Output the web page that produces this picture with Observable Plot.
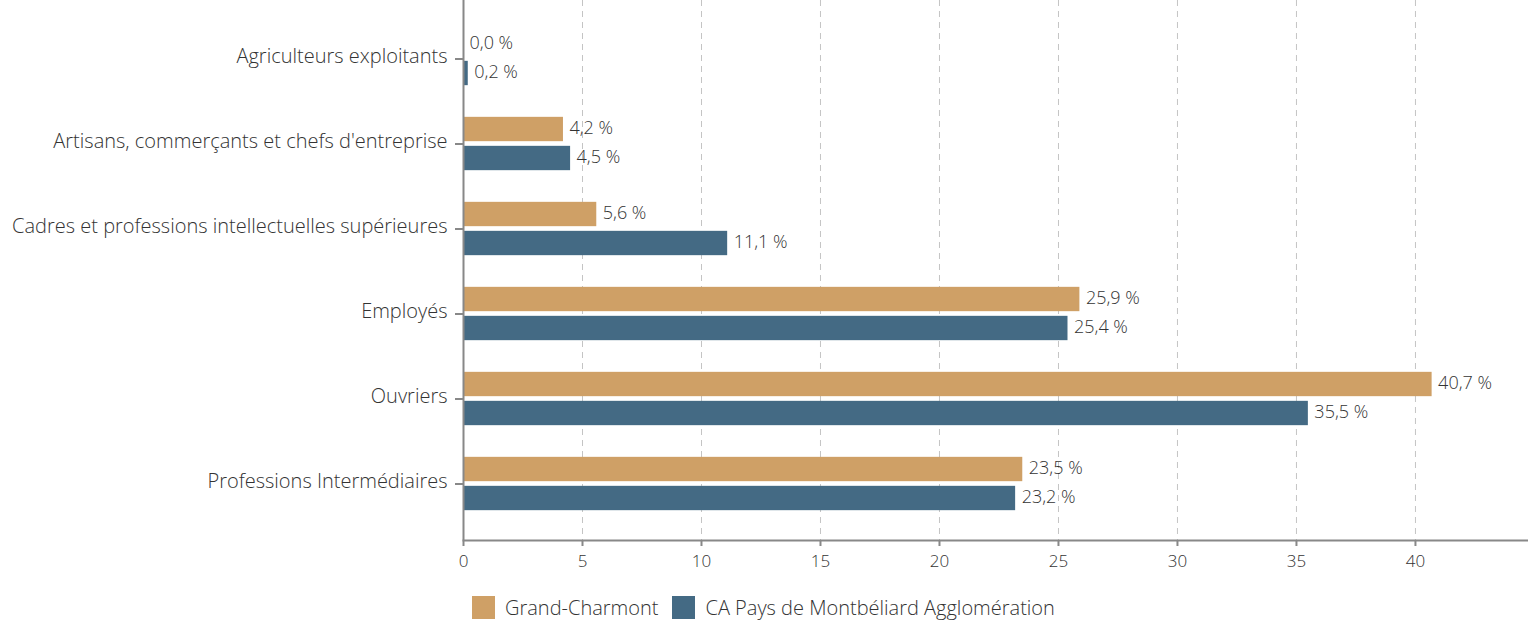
<!DOCTYPE html>
<html><head><meta charset="utf-8">
<script src="https://cdn.jsdelivr.net/npm/d3@7"></script>
<script src="https://cdn.jsdelivr.net/npm/@observablehq/plot@0.6"></script>
<style>
body{margin:0;background:#fff;font-family:"Open Sans",sans-serif;color:#333;font-weight:300}
#legend{display:flex;align-items:center;margin-left:472px;margin-top:14px;font-size:20px;color:#333;font-weight:300}
.item{display:flex;align-items:center;margin-right:14px}
.sw{width:23px;height:23px;margin-right:10px}
svg text{font-weight:300}
</style>
</head><body><div id="chart"></div><div id="legend"></div><script>
const categories = ["Agriculteurs exploitants","Artisans, commerçants et chefs d'entreprise","Cadres et professions intellectuelles supérieures","Employés","Ouvriers","Professions Intermédiaires"];
const series = ["Grand-Charmont","CA Pays de Montbéliard Agglomération"];
const grandCharmont = [0.0,4.2,5.6,25.9,40.7,23.5];
const caPMA = [0.2,4.5,11.1,25.4,35.5,23.2];
const colors = ["#CFA066","#446A84"];
const xTicks = [0,5,10,15,20,25,30,35,40];

const data = categories.flatMap((c,i)=>[
  {cat:c, s:series[0], v:grandCharmont[i]},
  {cat:c, s:series[1], v:caPMA[i]}
]);
const fmt = v => v.toFixed(1).replace(".", ",") + " %";
const yRange = [13.5, 527.5];
const bw = (yRange[1]-yRange[0]) / categories.length;
const s0 = data.filter(d=>d.s===series[0]);
const s1 = data.filter(d=>d.s===series[1]);

const chart = Plot.plot({
  width:1528, height:580,
  marginLeft:463, marginRight:0, marginTop:0, marginBottom:40,
  x:{domain:[0,44.75]},
  y:{domain:categories, range:yRange, padding:0},
  color:{domain:series, range:colors},
  style:{fontFamily:"'Open Sans', sans-serif", color:"#333", background:"#fff"},
  marks:[
    Plot.gridX(xTicks.filter(d=>d>0), {stroke:"#c4c4c4", strokeOpacity:1, strokeDasharray:"6,5", strokeWidth:1}),
    Plot.barX(s0, {x:"v", y:"cat", fill:"s", insetTop:bw/2-27, insetBottom:bw/2+2}),
    Plot.barX(s1, {x:"v", y:"cat", fill:"s", insetTop:bw/2+2, insetBottom:bw/2-27}),
    Plot.text(s0, {x:"v", y:"cat", text:d=>fmt(d.v), dx:6, dy:-15.5, textAnchor:"start", fill:"#333", fontSize:18}),
    Plot.text(s1, {x:"v", y:"cat", text:d=>fmt(d.v), dx:6, dy:13.5, textAnchor:"start", fill:"#333", fontSize:18}),
    Plot.axisY({tickSize:0, tickPadding:16, fontSize:20, fill:"#333", label:null, dy:-2}),
    Plot.axisY({tickSize:8, tickFormat:null, stroke:"#888", strokeWidth:2, label:null}),
    Plot.axisX({ticks:xTicks, tickSize:6, tickPadding:8, fontSize:17, stroke:"#888", strokeWidth:2, fill:"#333", label:null, tickFormat:d=>String(d)}),
    Plot.ruleX([0], {stroke:"#888", strokeWidth:2}),
    Plot.frame({anchor:"bottom", stroke:"#888", strokeWidth:2})
  ]
});
document.getElementById("chart").append(chart);

const legend = document.getElementById("legend");
series.forEach((s,i)=>{
  const it = document.createElement("div"); it.className="item";
  const sw = document.createElement("div"); sw.className="sw"; sw.style.background=colors[i];
  const t = document.createElement("span"); t.textContent=s;
  it.append(sw,t); legend.append(it);
});
</script></body></html>
